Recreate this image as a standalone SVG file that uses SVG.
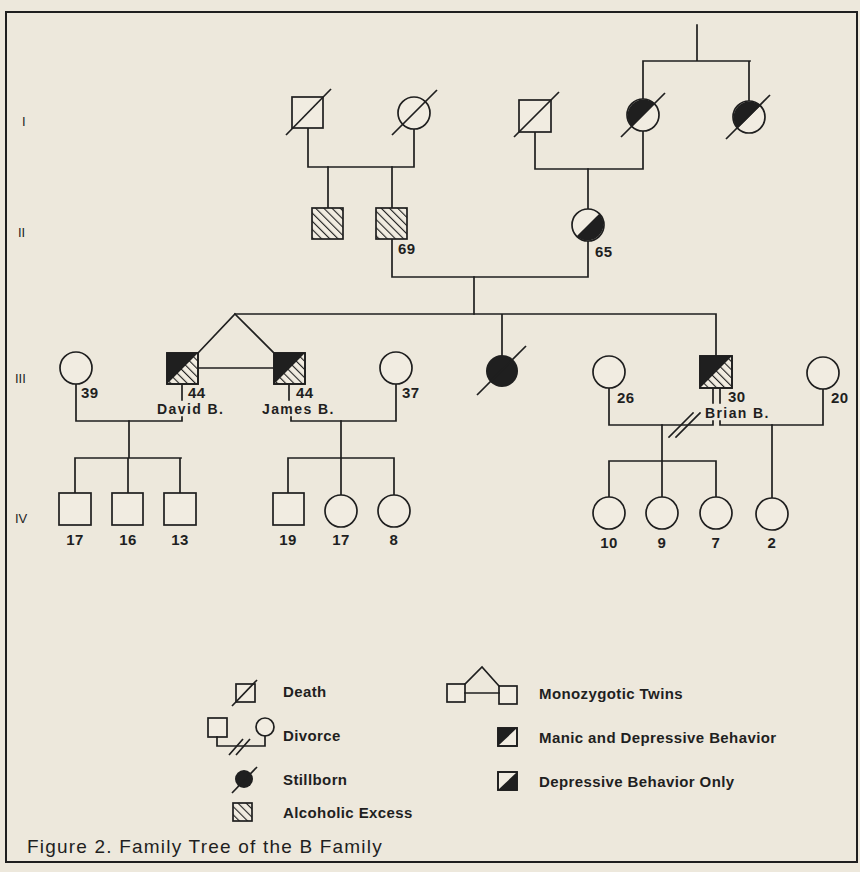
<svg xmlns="http://www.w3.org/2000/svg" width="860" height="872" viewBox="0 0 860 872">
<defs>
<pattern id="hatch" patternUnits="userSpaceOnUse" width="5.8" height="5.8" patternTransform="rotate(-45)">
<rect width="5.8" height="5.8" fill="#f1ece1"/>
<line x1="0" y1="0" x2="0" y2="5.8" stroke="#1f1f1f" stroke-width="2.2"/>
</pattern>
</defs>
<style>
.ln{fill:none;stroke:#1f1f1f;stroke-width:1.7;stroke-linecap:square}
.sh{fill:#f1ece1;stroke:#1f1f1f;stroke-width:1.7}
.hb{fill:url(#hatch);stroke:#1f1f1f;stroke-width:1.7}
.blk{fill:#1f1f1f;stroke:none}
.sl{fill:none;stroke:#1f1f1f;stroke-width:1.7}
.num{font-family:"Liberation Sans",Arial,Helvetica,sans-serif;font-size:15px;font-weight:bold;fill:#1f1f1f;letter-spacing:0.5px}
.nm{font-family:"Liberation Sans",Arial,Helvetica,sans-serif;font-size:14px;font-weight:bold;fill:#1f1f1f;letter-spacing:1.4px}
.gen{font-family:"Liberation Sans",Arial,Helvetica,sans-serif;font-size:13px;fill:#1f1f1f}
.lg{font-family:"Liberation Sans",Arial,Helvetica,sans-serif;font-size:15px;font-weight:bold;fill:#1f1f1f;letter-spacing:0.4px}
.cap{font-family:"Liberation Sans",Arial,Helvetica,sans-serif;font-size:19px;fill:#1f1f1f;letter-spacing:1.2px}
</style>
<rect width="860" height="872" fill="#ede8dc"/>
<rect x="6" y="12" width="851" height="850" fill="none" stroke="#1f1f1f" stroke-width="2"/>

<g id="generation-labels">
<text class="gen" x="22" y="126">I</text>
<text class="gen" x="18" y="237">II</text>
<text class="gen" x="15" y="383">III</text>
<text class="gen" x="15" y="523">IV</text>
</g>

<g id="connectors" class="ln">
<path d="M697 25V61M643 61H750M643 61V99M749 61V101"/>
<path d="M308 128V167H414V129"/>
<path d="M328 167V208M392 167V208"/>
<path d="M535 132V169H643V131"/>
<path d="M588 169V209"/>
<path d="M392 239V277H588V241"/>
<path d="M474 277V314"/>
<path d="M235 314H716M502 314V355M716 314V356"/>
<path d="M235 314L198 353M235 314L274 353"/>
<path d="M198 368H274"/>
<path d="M76 384V421H182V417"/>
<path d="M182 384V400"/>
<path d="M289 384V400"/>
<path d="M291 417V421H396V384"/>
<path d="M713 388V403M720 388V403"/>
<path d="M713 421V425H609V388"/>
<path d="M720 421V425H823V389"/>
<path d="M669 437L693 413M676 437L700 413"/>
<path d="M129 421V458M75 458H181M75 458V493M128 458V493M180 458V493"/>
<path d="M341 421V458M288 458H394M288 458V493M341 458V495M394 458V495"/>
<path d="M662 425V461M609 461H716M609 461V497M662 461V497M716 461V497"/>
<path d="M772 425V498"/>
</g>

<g id="I-1"><rect class="sh" x="292" y="97" width="31" height="31"/><line class="sl" x1="286" y1="135" x2="331" y2="89"/></g>
<g id="I-2"><circle class="sh" cx="414" cy="113" r="16"/><line class="sl" x1="392" y1="135" x2="437" y2="90"/></g>
<g id="I-3"><rect class="sh" x="519" y="100" width="32" height="32"/><line class="sl" x1="514" y1="137" x2="559" y2="92"/></g>
<g id="I-4"><circle class="sh" cx="643" cy="115" r="16"/><path class="blk" d="M631.7 126.3A16 16 0 0 1 654.3 103.7Z"/><line class="sl" x1="621" y1="137" x2="665" y2="93"/></g>
<g id="I-5"><circle class="sh" cx="749" cy="117" r="16"/><path class="blk" d="M737.7 128.3A16 16 0 0 1 760.3 105.7Z"/><line class="sl" x1="726" y1="139" x2="770" y2="95"/></g>

<g id="II-1"><rect class="hb" x="312" y="208" width="31" height="31"/></g>
<g id="II-2"><rect class="hb" x="376" y="208" width="31" height="31"/><text class="num" x="398" y="254">69</text></g>
<g id="II-3"><circle class="sh" cx="588" cy="225" r="16"/><path class="blk" d="M599.3 213.7A16 16 0 0 1 576.7 236.3Z"/><text class="num" x="595" y="257">65</text></g>

<g id="III-39"><circle class="sh" cx="76" cy="368" r="16"/><text class="num" x="81" y="398">39</text></g>
<g id="III-David"><rect class="hb" x="167" y="353" width="31" height="31"/><path class="blk" d="M167 353H198L167 384Z"/><rect x="167" y="353" width="31" height="31" fill="none" stroke="#1f1f1f" stroke-width="1.7"/><text class="num" x="188" y="398">44</text><text class="nm" x="157" y="414">David B.</text></g>
<g id="III-James"><rect class="hb" x="274" y="353" width="31" height="31"/><path class="blk" d="M274 353H305L274 384Z"/><rect x="274" y="353" width="31" height="31" fill="none" stroke="#1f1f1f" stroke-width="1.7"/><text class="num" x="296" y="398">44</text><text class="nm" x="262" y="414">James B.</text></g>
<g id="III-37"><circle class="sh" cx="396" cy="368" r="16"/><text class="num" x="402" y="398">37</text></g>
<g id="III-stillborn"><circle cx="502" cy="371" r="16" fill="#1f1f1f"/><line class="sl" x1="477" y1="395" x2="526" y2="346"/></g>
<g id="III-26"><circle class="sh" cx="609" cy="372" r="16"/><text class="num" x="617" y="403">26</text></g>
<g id="III-Brian"><rect class="hb" x="700" y="356" width="32" height="32"/><path class="blk" d="M700 356H732L700 388Z"/><rect x="700" y="356" width="32" height="32" fill="none" stroke="#1f1f1f" stroke-width="1.7"/><text class="num" x="728" y="402">30</text><text class="nm" x="705" y="418">Brian B.</text></g>
<g id="III-20"><circle class="sh" cx="823" cy="373" r="16"/><text class="num" x="831" y="403">20</text></g>

<g id="IV-17m"><rect class="sh" x="59" y="493" width="32" height="32"/><text class="num" x="75" y="545" text-anchor="middle">17</text></g>
<g id="IV-16"><rect class="sh" x="112" y="493" width="31" height="32"/><text class="num" x="128" y="545" text-anchor="middle">16</text></g>
<g id="IV-13"><rect class="sh" x="164" y="493" width="32" height="32"/><text class="num" x="180" y="545" text-anchor="middle">13</text></g>
<g id="IV-19"><rect class="sh" x="273" y="493" width="31" height="32"/><text class="num" x="288" y="545" text-anchor="middle">19</text></g>
<g id="IV-17f"><circle class="sh" cx="341" cy="511" r="16"/><text class="num" x="341" y="545" text-anchor="middle">17</text></g>
<g id="IV-8"><circle class="sh" cx="394" cy="511" r="16"/><text class="num" x="394" y="545" text-anchor="middle">8</text></g>
<g id="IV-10"><circle class="sh" cx="609" cy="513" r="16"/><text class="num" x="609" y="548" text-anchor="middle">10</text></g>
<g id="IV-9"><circle class="sh" cx="662" cy="513" r="16"/><text class="num" x="662" y="548" text-anchor="middle">9</text></g>
<g id="IV-7"><circle class="sh" cx="716" cy="513" r="16"/><text class="num" x="716" y="548" text-anchor="middle">7</text></g>
<g id="IV-2"><circle class="sh" cx="772" cy="514" r="16"/><text class="num" x="772" y="548" text-anchor="middle">2</text></g>

<g id="legend">
<g id="lg-death"><rect class="sh" x="236" y="684" width="19" height="18"/><line class="sl" x1="232" y1="706" x2="257" y2="680"/><text class="lg" x="283" y="697">Death</text></g>
<g id="lg-divorce"><rect class="sh" x="208" y="718" width="19" height="19"/><circle class="sh" cx="265" cy="727" r="9"/><path class="ln" d="M217 737V746H265V736"/><path class="sl" d="M229 755L243 739M236 755L250 739"/><text class="lg" x="283" y="741">Divorce</text></g>
<g id="lg-stillborn"><circle cx="244" cy="779" r="9" fill="#1f1f1f"/><line class="sl" x1="232" y1="793" x2="257" y2="767"/><text class="lg" x="283" y="785">Stillborn</text></g>
<g id="lg-alcohol"><rect class="hb" x="233" y="803" width="19" height="18"/><text class="lg" x="283" y="818">Alcoholic Excess</text></g>
<g id="lg-twins"><rect class="sh" x="447" y="684" width="18" height="18"/><rect class="sh" x="499" y="686" width="18" height="18"/><path class="ln" d="M465 684L482 667L499 686M465 693H499"/><text class="lg" x="539" y="699">Monozygotic Twins</text></g>
<g id="lg-manic"><rect class="sh" x="498" y="728" width="19" height="18"/><path class="blk" d="M498 728H517L498 746Z"/><rect x="498" y="728" width="19" height="18" fill="none" stroke="#1f1f1f" stroke-width="1.7"/><text class="lg" x="539" y="743">Manic and Depressive Behavior</text></g>
<g id="lg-depressive"><rect class="sh" x="498" y="772" width="19" height="18"/><path class="blk" d="M517 772V790H498Z"/><rect x="498" y="772" width="19" height="18" fill="none" stroke="#1f1f1f" stroke-width="1.7"/><text class="lg" x="539" y="787">Depressive Behavior Only</text></g>
</g>

<text class="cap" x="27" y="853">Figure 2. Family Tree of the B Family</text>
</svg>
